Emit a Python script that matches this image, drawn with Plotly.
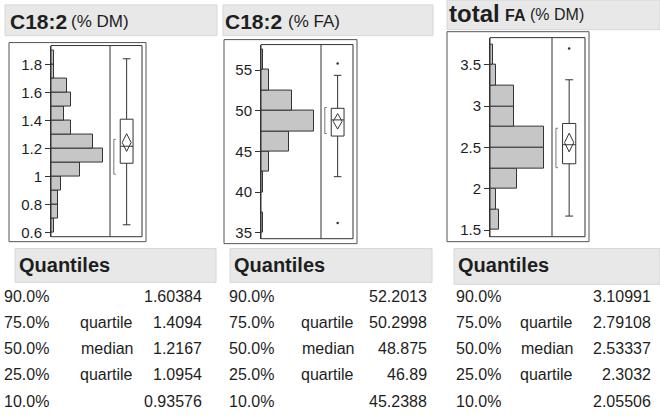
import plotly.graph_objects as go

# histogram bins (lower edges), bin widths and counts
p1_bins = [0.6, 0.7, 0.8, 0.9, 1.0, 1.1, 1.2, 1.3, 1.4, 1.5, 1.6, 1.7, 1.8]
p1_binw = 0.1
p1_counts = [1, 2, 2, 3, 9, 16, 13, 6, 4, 6, 5, 1, 1]

p2_bins = [35, 37.5, 40, 42.5, 45, 47.5, 50, 52.5, 55]
p2_binw = 2.5
p2_counts = [1, 0, 1, 4, 14, 27, 16, 4, 1]

p3_bins = [1.5, 1.75, 2.0, 2.25, 2.5, 2.75, 3.0, 3.25, 3.5]
p3_binw = 0.25
p3_counts = [3, 2, 9, 18, 18, 8, 8, 2, 1]

# quantiles table
pct_labels = ["90.0%", "75.0%", "50.0%", "25.0%", "10.0%"]
stat_labels = ["", "quartile", "median", "quartile", ""]
p1_quant = [1.60384, 1.4094, 1.2167, 1.0954, 0.93576]
p2_quant = [52.2013, 50.2998, 48.875, 46.89, 45.2388]
p3_quant = [3.10991, 2.79108, 2.53337, 2.3032, 2.05506]

# box plot extras: whisker ends, mean, CI half width, shortest half, outliers
p1_whisk = [0.657, 1.84]
p2_whisk = [41.9, 54.35]
p3_whisk = [1.67, 3.32]
p1_mean, p1_ci = 1.243, 0.063
p2_mean, p2_ci = 48.7, 0.95
p3_mean, p3_ci = 2.56, 0.113
p1_short = [1.017, 1.266]
p2_short = [47.2, 50.4]
p3_short = [2.256, 2.733]
p1_out = []
p2_out = [55.8, 36.2]
p3_out = [3.70]

W, H = 660, 419
FONT = "Liberation Sans, Arial, sans-serif"
INK = "#1e1e1e"


def px(x):
    return x / W


def py(y):
    return 1 - y / H


fig = go.Figure()

panels = [
    dict(bins=p1_bins, w=p1_binw, counts=p1_counts, quant=p1_quant, whisk=p1_whisk,
         mean=p1_mean, ci=p1_ci, short=p1_short, out=p1_out,
         hx="x", bx="x2", y="y", hrange=[0, 18.1], yrange=[0.572, 1.934],
         tick0=0.6, dtick=0.2,
         hdom=[51, 110], bdom=[110, 142], ydom=[46, 239]),
    dict(bins=p2_bins, w=p2_binw, counts=p2_counts, quant=p2_quant, whisk=p2_whisk,
         mean=p2_mean, ci=p2_ci, short=p2_short, out=p2_out,
         hx="x3", bx="x4", y="y2", hrange=[0, 30.5], yrange=[34.28, 58.13],
         tick0=35, dtick=5,
         hdom=[261, 321], bdom=[321, 353], ydom=[45, 241]),
    dict(bins=p3_bins, w=p3_binw, counts=p3_counts, quant=p3_quant, whisk=p3_whisk,
         mean=p3_mean, ci=p3_ci, short=p3_short, out=p3_out,
         hx="x5", bx="x6", y="y3", hrange=[0, 20.7], yrange=[1.42, 3.83],
         tick0=1.5, dtick=0.5,
         hdom=[490, 552], bdom=[552, 585], ydom=[38, 239]),
]

c, dw = 0.52, 0.14  # box centre and diamond half width (box axis units)
for i, p in enumerate(panels):
    centers = [b + p["w"] / 2 for b in p["bins"]]
    fig.add_trace(go.Bar(
        y=centers, x=p["counts"], width=p["w"], orientation="h",
        marker=dict(color="#c6c6c6", line=dict(color="#333", width=1)),
        xaxis=p["hx"], yaxis=p["y"]))
    q = p["quant"]
    fig.add_trace(go.Box(
        x=[c], q1=[q[3]], median=[q[2]], q3=[q[1]],
        lowerfence=[p["whisk"][0]], upperfence=[p["whisk"][1]],
        orientation="v", width=0.4, whiskerwidth=0.6, boxpoints=False,
        fillcolor="white", line=dict(color="#333", width=1),
        xaxis=p["bx"], yaxis=p["y"]))
    m, h = p["mean"], p["ci"]
    fig.add_trace(go.Scatter(
        x=[c, c + dw, c, c - dw, c], y=[m + h, m, m - h, m, m + h],
        mode="lines", line=dict(color="#333", width=1),
        xaxis=p["bx"], yaxis=p["y"]))
    lo, hi = p["short"]
    fig.add_trace(go.Scatter(
        x=[0.18, 0.12, 0.12, 0.18], y=[hi, hi, lo, lo],
        mode="lines", line=dict(color="#777", width=1),
        xaxis=p["bx"], yaxis=p["y"]))
    if p["out"]:
        fig.add_trace(go.Scatter(
            x=[c] * len(p["out"]), y=p["out"], mode="markers",
            marker=dict(color="#333", size=2.5),
            xaxis=p["bx"], yaxis=p["y"]))

    hk = "xaxis" if p["hx"] == "x" else "xaxis" + p["hx"][1:]
    bk = "xaxis" + p["bx"][1:]
    yk = "yaxis" if p["y"] == "y" else "yaxis" + p["y"][1:]
    fig.layout[hk] = dict(domain=[px(p["hdom"][0]), px(p["hdom"][1])], range=p["hrange"],
                          anchor=p["y"], visible=False)
    fig.layout[bk] = dict(domain=[px(p["bdom"][0]), px(p["bdom"][1])], range=[0, 1],
                          anchor=p["y"], visible=False)
    fig.layout[yk] = dict(domain=[py(p["ydom"][1]), py(p["ydom"][0])], range=p["yrange"],
                          anchor=p["hx"], tickmode="linear", tick0=p["tick0"], dtick=p["dtick"],
                          ticks="outside", ticklen=5, tickcolor="#333", showgrid=False,
                          zeroline=False, showline=True, linecolor="#333", linewidth=1,
                          tickfont=dict(family=FONT, size=15, color=INK))

shapes = []


def rect(x0, y0, x1, y1, fill=None, line="#333", layer="above"):
    shapes.append(dict(type="rect", xref="paper", yref="paper",
                       x0=px(x0), x1=px(x1), y0=py(y1), y1=py(y0),
                       fillcolor=fill or "rgba(0,0,0,0)", line=dict(color=line, width=1),
                       layer=layer))


# header bars
rect(5, 5, 217, 36, fill="#e8e8e8", line="#d6d6d6", layer="below")
rect(223, 5, 433, 36, fill="#e8e8e8", line="#d6d6d6", layer="below")
rect(447, 0, 660, 30, fill="#e8e8e8", line="#d6d6d6", layer="below")
rect(15, 251, 216, 285, fill="#e8e8e8", line="#d6d6d6", layer="below")
rect(230, 251, 432, 285, fill="#e8e8e8", line="#d6d6d6", layer="below")
rect(454, 251, 660, 287, fill="#e8e8e8", line="#d6d6d6", layer="below")
# frames
rect(9, 43, 146, 244, line="#555")
rect(224, 40, 357, 246, line="#555")
rect(447, 32, 589, 244, line="#555")
rect(51, 46, 142, 239)
rect(261, 45, 353, 241)
rect(490, 38, 585, 239)
for xd, y0, y1 in [(110, 46, 239), (321, 45, 241), (552, 38, 239)]:
    shapes.append(dict(type="line", xref="paper", yref="paper", x0=px(xd), x1=px(xd),
                       y0=py(y0), y1=py(y1), line=dict(color="#333", width=1)))

ann = []


def label(x, y, s, size, bold=False, anchor="left"):
    ann.append(dict(x=px(x), y=py(y), xref="paper", yref="paper", showarrow=False,
                    text=f"<b>{s}</b>" if bold else s, xanchor=anchor, yanchor="middle",
                    font=dict(family=FONT, size=size, color=INK), borderpad=0))


label(9, 22, "C18:2", 21, bold=True)
label(70, 22, "(% DM)", 17)
label(224, 22, "C18:2", 21, bold=True)
label(287, 22, "(% FA)", 17)
label(448, 14, "total", 24, bold=True)
label(504, 16, "FA", 16, bold=True)
label(529, 15, "(% DM)", 16)

table_cols = [(3, 134, 203, p1_quant, 18), (228, 355, 428, p2_quant, 233), (455, 574, 652, p3_quant, 457)]
for pl, lr, vr, vals, qx in table_cols:
    label(qx, 268, "Quantiles", 20, bold=True)
    for r in range(5):
        yy = 299 + r * 26.5
        label(pl, yy, pct_labels[r], 16)
        if stat_labels[r]:
            label(lr, yy, stat_labels[r], 16, anchor="right")
        label(vr, yy, repr(vals[r]), 16, anchor="right")

fig.update_layout(width=W, height=H, margin=dict(l=0, r=0, t=0, b=0),
                  paper_bgcolor="white", plot_bgcolor="white", showlegend=False,
                  shapes=shapes, annotations=ann, bargap=0)
# drop the browser's default page margin so the figure sits at the window origin
fig.write_html("out.html", config={"displayModeBar": False},
               post_script="document.body.style.margin='0';")
